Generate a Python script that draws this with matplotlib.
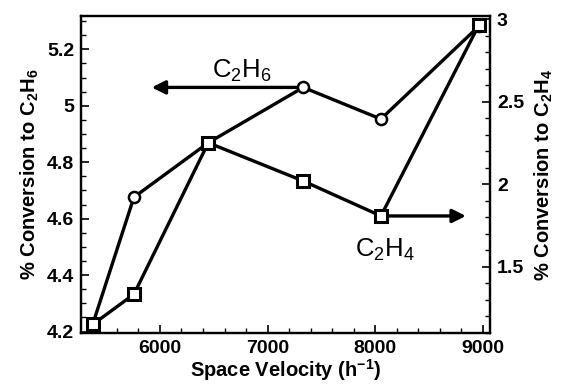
import matplotlib
matplotlib.use("Agg")
import matplotlib.pyplot as plt
from matplotlib.ticker import MultipleLocator

plt.rcParams['font.family'] = ['Liberation Sans', 'DejaVu Sans']
plt.rcParams['mathtext.fontset'] = 'custom'
plt.rcParams['mathtext.rm'] = 'Liberation Sans'
plt.rcParams['mathtext.it'] = 'Liberation Sans'
plt.rcParams['mathtext.bf'] = 'Liberation Sans:bold'

space_velocity = [5375, 5758, 6449, 7332, 8054, 8965]
conv_c2h6 = [4.226, 4.676, 4.869, 5.065, 4.953, 5.282]
conv_c2h4 = [1.150, 1.333, 2.252, 2.020, 1.808, 2.967]

fig = plt.figure(figsize=(5.63, 3.90), dpi=100)
ax = fig.add_axes([81/563, 57/390, (490-81)/563, (333-16)/390])
ax2 = ax.twinx()

ax.plot(space_velocity, conv_c2h6, color='black', lw=2.4, marker='o', ms=8,
        mfc='white', mec='black', mew=1.8, zorder=3)
ax2.plot(space_velocity, conv_c2h4, color='black', lw=2.4, marker='s', ms=8.5,
         mfc='white', mec='black', mew=2.2, zorder=3)

ax.set_xlim(5266, 9068)
ax.set_ylim(4.195, 5.318)
ax2.set_ylim(1.098, 3.021)

ax.xaxis.set_major_locator(MultipleLocator(1000))
ax.xaxis.set_minor_locator(MultipleLocator(200))
ax.yaxis.set_minor_locator(MultipleLocator(0.05))
ax2.yaxis.set_minor_locator(MultipleLocator(0.1))

ax.set_yticks([4.2, 4.4, 4.6, 4.8, 5.0, 5.2])
ax.set_yticklabels(['4.2', '4.4', '4.6', '4.8', '5', '5.2'])
ax2.set_yticks([1.5, 2.0, 2.5, 3.0])
ax2.set_yticklabels(['1.5', '2', '2.5', '3'])

for a in (ax, ax2):
    for s in a.spines.values():
        s.set_linewidth(1.6)
ax.tick_params(axis='both', which='major', direction='in', length=6, width=1.2,
               labelsize=14, pad=5)
ax.tick_params(axis='both', which='minor', direction='in', length=3.5, width=1.0)
ax.tick_params(axis='y', right=False)
ax.tick_params(axis='x', top=False)
ax2.tick_params(axis='y', which='major', direction='in', length=6, width=1.2,
                labelsize=14, pad=5)
ax2.tick_params(axis='y', which='minor', direction='in', length=3.5, width=1.0)
for lab in ax.get_xticklabels() + ax.get_yticklabels() + ax2.get_yticklabels():
    lab.set_fontweight('bold')

ax.set_xlabel('Space Velocity (h$^{\\mathbf{-1}}$)', fontsize=14.5, fontweight='bold', labelpad=0)
ax.set_ylabel('% Conversion to C$_{\\mathbf{2}}$H$_{\\mathbf{6}}$', fontsize=14.5, fontweight='bold', labelpad=4)
ax2.set_ylabel('% Conversion to C$_{\\mathbf{2}}$H$_{\\mathbf{4}}$', fontsize=14.5, fontweight='bold', labelpad=6)

ax.annotate('', xy=(5923, conv_c2h6[3]), xytext=(space_velocity[3], conv_c2h6[3]),
            arrowprops=dict(arrowstyle='-|>', color='black', lw=2.4, mutation_scale=20,
                            shrinkA=5, shrinkB=0), zorder=2)
ax.text(6480, 5.098, 'C$_2$H$_6$', fontsize=18.5, ha='left', va='baseline')

ax2.annotate('', xy=(8844, conv_c2h4[4]), xytext=(space_velocity[4], conv_c2h4[4]),
             arrowprops=dict(arrowstyle='-|>', color='black', lw=2.4, mutation_scale=20,
                             shrinkA=6, shrinkB=0), zorder=2)
ax2.text(7812, 1.559, 'C$_2$H$_4$', fontsize=18.5, ha='left', va='baseline')

fig.savefig('out.png', dpi=100)
